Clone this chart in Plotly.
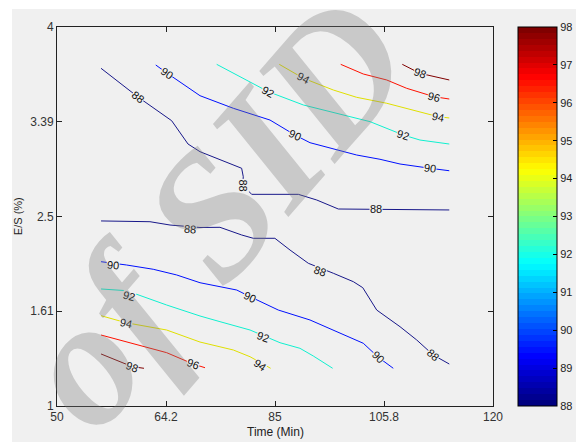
import plotly.graph_objects as go

# ---------------- data (axis positions are equally spaced design levels) ----------
X_TICK_POS = [0, 1, 2, 3, 4]
X_TICK_LABELS = ["50", "64.2", "85", "105.8", "120"]
Y_TICK_POS = [0, 1, 2, 3, 4]
Y_TICK_LABELS = ["1", "1.61", "2.5", "3.39", "4"]
CBAR_TICKS = [88, 89, 90, 91, 92, 93, 94, 95, 96, 97, 98]

# contour lines (x = time level, y = E/S level)
C88_UP_X = [0.404, 0.743, 1.052, 1.202, 1.312, 1.694, 1.709, 1.704, 1.786, 2.214, 2.383, 2.581, 3.599]
C88_UP_Y = [3.564, 3.261, 3.011, 2.765, 2.684, 2.509, 2.420, 2.332, 2.234, 2.234, 2.174, 2.079, 2.069]
C90_UP_X = [0.906, 1.007, 1.312, 1.618, 1.954, 2.183, 2.321, 2.627, 2.749, 2.963, 3.147, 3.422, 3.599]
C90_UP_Y = [3.599, 3.515, 3.275, 3.142, 3.018, 2.860, 2.779, 2.684, 2.649, 2.604, 2.554, 2.509, 2.483]
C92_UP_X = [1.465, 1.740, 1.939, 2.260, 2.627, 2.872, 3.177, 3.330, 3.599]
C92_UP_Y = [3.606, 3.441, 3.317, 3.177, 3.071, 3.001, 2.860, 2.807, 2.765]
C94_UP_X = [2.039, 2.260, 2.535, 2.749, 3.025, 3.269, 3.498, 3.599]
C94_UP_Y = [3.606, 3.459, 3.335, 3.258, 3.195, 3.124, 3.053, 3.040]
C96_UP_X = [2.603, 2.810, 3.025, 3.208, 3.461, 3.599]
C96_UP_Y = [3.606, 3.504, 3.441, 3.353, 3.264, 3.240]
C98_UP_X = [3.168, 3.330, 3.599]
C98_UP_Y = [3.606, 3.511, 3.441]

C88_LO_X = [0.404, 0.853, 1.037, 1.312, 1.495, 1.694, 1.801, 1.999, 2.138, 2.306, 2.535, 2.719, 2.805, 2.933, 3.147, 3.300, 3.452, 3.599]
C88_LO_Y = [1.953, 1.945, 1.910, 1.884, 1.886, 1.805, 1.770, 1.770, 1.646, 1.506, 1.401, 1.312, 1.249, 1.013, 0.837, 0.697, 0.538, 0.443]
C90_LO_X = [0.404, 0.639, 0.883, 1.098, 1.312, 1.495, 1.649, 1.771, 2.030, 2.321, 2.535, 2.810, 2.948, 3.085]
C90_LO_Y = [1.523, 1.488, 1.443, 1.383, 1.301, 1.259, 1.224, 1.154, 1.013, 0.908, 0.802, 0.662, 0.514, 0.398]
C92_LO_X = [0.404, 0.639, 1.006, 1.312, 1.495, 1.771, 2.046, 2.229, 2.351, 2.529]
C92_LO_Y = [1.235, 1.217, 1.066, 0.950, 0.890, 0.802, 0.668, 0.609, 0.528, 0.398]
C94_LO_X = [0.404, 0.633, 1.006, 1.312, 1.618, 1.771, 1.960]
C94_LO_Y = [0.953, 0.879, 0.802, 0.675, 0.591, 0.520, 0.398]
C96_LO_X = [0.404, 0.700, 1.006, 1.250, 1.358]
C96_LO_Y = [0.749, 0.654, 0.563, 0.443, 0.404]
C98_LO_X = [0.404, 0.691, 0.798]
C98_LO_Y = [0.549, 0.415, 0.398]

LINES = [
    (88, C88_UP_X, C88_UP_Y), (90, C90_UP_X, C90_UP_Y), (92, C92_UP_X, C92_UP_Y),
    (94, C94_UP_X, C94_UP_Y), (96, C96_UP_X, C96_UP_Y), (98, C98_UP_X, C98_UP_Y),
    (88, C88_LO_X, C88_LO_Y), (90, C90_LO_X, C90_LO_Y), (92, C92_LO_X, C92_LO_Y),
    (94, C94_LO_X, C94_LO_Y), (96, C96_LO_X, C96_LO_Y), (98, C98_LO_X, C98_LO_Y),
]

# contour labels: level, x, y, angle
LABEL_LEVEL = [88, 88, 88, 90, 90, 90, 92, 92, 94, 94, 96, 98,
               88, 88, 88, 90, 90, 90, 92, 92, 94, 94, 96, 98]
LABEL_X = [0.743, 1.703, 2.927, 1.007, 2.183, 3.422, 1.939, 3.177, 2.260, 3.498, 3.461, 3.330,
           1.220, 2.413, 3.452, 0.517, 1.771, 2.948, 0.663, 1.893, 0.633, 1.862, 1.250, 0.691]
LABEL_Y = [3.261, 2.332, 2.079, 3.515, 2.860, 2.509, 3.317, 2.860, 3.459, 3.053, 3.264, 3.511,
           1.867, 1.428, 0.538, 1.488, 1.154, 0.514, 1.161, 0.730, 0.879, 0.433, 0.443, 0.415]
LABEL_ANGLE = [37, 90, 0, 35, 25, 8, 30, 18, 28, 12, 15, 20,
               5, 20, 40, 5, 25, 45, 15, 20, 12, 35, 20, 20]

LEVEL_COLORS = {88: "#18188a", 90: "#0010ff", 92: "#10f0d0", 94: "#e0e000",
                96: "#ff1000", 98: "#800000"}


def jet(t):
    def c(v):
        return max(0.0, min(1.0, v))
    r = c(1.5 - abs(4 * t - 3))
    g = c(1.5 - abs(4 * t - 2))
    b = c(1.5 - abs(4 * t - 1))
    return "rgb(%d,%d,%d)" % (round(r * 255), round(g * 255), round(b * 255))


# 64-step MATLAB jet colourscale
colorscale = []
for i in range(64):
    col = jet(i / 63)
    colorscale.append([i / 64, col])
    colorscale.append([(i + 1) / 64, col])

fig = go.Figure()
for lvl, xs, ys in LINES:
    fig.add_trace(go.Scatter(x=xs, y=ys, mode="lines",
                             line=dict(color=LEVEL_COLORS[lvl], width=1),
                             hoverinfo="skip", showlegend=False))

# colour bar carrier
fig.add_trace(go.Scatter(
    x=[-10], y=[-10], mode="markers", showlegend=False, hoverinfo="skip",
    marker=dict(color=[88], cmin=88, cmax=98, colorscale=colorscale, size=1,
                showscale=True,
                colorbar=dict(x=1.057, xanchor="left", xref="paper",
                              y=0.5, yanchor="middle", len=1, lenmode="fraction",
                              thickness=39, thicknessmode="pixels",
                              outlinecolor="#000", outlinewidth=1,
                              tickvals=CBAR_TICKS, ticks="inside", ticklen=4,
                              tickcolor="#000", xpad=0, ypad=0,
                              tickfont=dict(family="Liberation Sans, Arial", size=11, color="#222")))))

annotations = []
for lvl, x, y, a in zip(LABEL_LEVEL, LABEL_X, LABEL_Y, LABEL_ANGLE):
    annotations.append(dict(x=x, y=y, xref="x", yref="y", text=str(lvl), showarrow=False,
                            textangle=a, bgcolor="#f0f0f0", borderpad=0,
                            font=dict(family="Liberation Sans, Arial", size=11, color="#111")))

# watermark
annotations.append(dict(x=(212 - 57) / 436, y=(406 - 212) / 379, xref="paper", yref="paper",
                        text="of SID", showarrow=False, textangle=-49,
                        xanchor="center", yanchor="middle",
                        font=dict(family="Liberation Serif, serif", size=180, weight="bold",
                                  color="rgba(120,120,120,0.33)", style="italic")))
# axis titles
annotations.append(dict(x=0.5, y=-0.069, xref="paper", yref="paper", text="Time (Min)",
                        showarrow=False, yanchor="middle",
                        font=dict(family="Liberation Sans, Arial", size=12, color="#222")))
annotations.append(dict(x=-0.0894, y=0.501, xref="paper", yref="paper", text="E/S (%)",
                        showarrow=False, textangle=-90, xanchor="center",
                        font=dict(family="Liberation Sans, Arial", size=11, color="#222")))

axis_common = dict(showgrid=False, zeroline=False, showline=True, linecolor="#222",
                   linewidth=1, mirror="ticks", ticks="inside", ticklen=5, tickcolor="#222",
                   automargin=False,
                   tickfont=dict(family="Liberation Sans, Arial", size=12, color="#333"))

fig.update_layout(
    width=576, height=442,
    margin=dict(l=57, r=83, t=27, b=36, autoexpand=False),
    paper_bgcolor="white", plot_bgcolor="#f0f0f0",
    xaxis=dict(range=[0, 4], tickvals=X_TICK_POS, ticktext=X_TICK_LABELS, **axis_common),
    yaxis=dict(range=[0, 4], tickvals=Y_TICK_POS, ticktext=Y_TICK_LABELS, **axis_common),
    annotations=annotations,
    shapes=[dict(type="rect", xref="paper", yref="paper", layer="below",
                 x0=-45 / 436, x1=1.3, y0=-0.1, y1=1 + 18 / 379,
                 fillcolor="#f0f0f0", line=dict(width=0))],
)

fig.write_html("out.html", config={"displayModeBar": False},
               post_script="document.body.style.margin='0';document.body.style.overflow='hidden';")
